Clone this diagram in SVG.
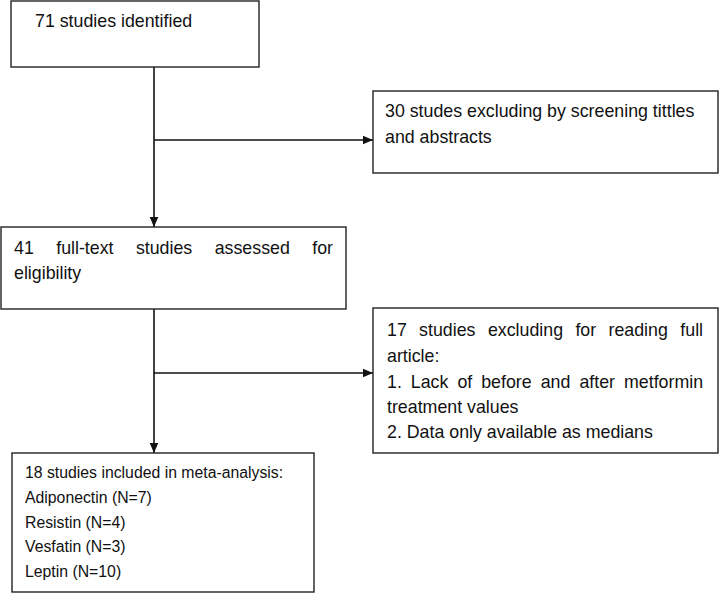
<svg xmlns="http://www.w3.org/2000/svg" width="720" height="601" viewBox="0 0 720 601">
<style>
.box{fill:#fff;stroke:#222;stroke-width:1.4}
.t{font-family:"Liberation Sans",Arial,sans-serif;font-size:17.8px;fill:#111}
.s{font-size:15.8px}
.c{stroke:#111;stroke-width:1.6;fill:none;marker-end:url(#ah)}
</style>
<defs>
<marker id="ah" markerUnits="userSpaceOnUse" markerWidth="11" markerHeight="10" refX="10.5" refY="5" orient="auto">
<path d="M0,0.5 L10.5,5 L0,9.5 z" fill="#111"/>
</marker>
</defs>
<rect width="720" height="601" fill="#fff"/>
<g id="connectors">
<path class="c" d="M154,67 V227"/>
<path class="c" d="M154,140 H373"/>
<path class="c" d="M154,309 V453"/>
<path class="c" d="M154,373 H373"/>
</g>
<g id="n1">
<rect class="box" x="11" y="1" width="248" height="66"/>
<text class="t" x="35" y="27">71 studies identified</text>
</g>
<g id="n2">
<rect class="box" x="373" y="91" width="345" height="82"/>
<text class="t" x="385" y="117">30 studes excluding by screening tittles</text>
<text class="t" x="385" y="143">and abstracts</text>
</g>
<g id="n3">
<rect class="box" x="1" y="227" width="345" height="82"/>
<text class="t" y="254"><tspan x="14">41</tspan> <tspan x="56.2">full-text</tspan> <tspan x="135.9">studies</tspan> <tspan x="214.7">assessed</tspan> <tspan x="312.2">for</tspan></text>
<text class="t" x="14" y="279">eligibility</text>
</g>
<g id="n4">
<rect class="box" x="373" y="308" width="345" height="145"/>
<text class="t" y="336"><tspan x="387">17</tspan> <tspan x="419.1">studies</tspan> <tspan x="487.9">excluding</tspan> <tspan x="575.4">for</tspan> <tspan x="608.5">reading</tspan> <tspan x="680.3">full</tspan></text>
<text class="t" x="387" y="362">article:</text>
<text class="t" y="388"><tspan x="387">1.</tspan> <tspan x="410.8">Lack</tspan> <tspan x="457.4">of</tspan> <tspan x="481.2">before</tspan> <tspan x="540.7">and</tspan> <tspan x="579.4">after</tspan> <tspan x="624">metformin</tspan></text>
<text class="t" x="387" y="413">treatment values</text>
<text class="t" x="387" y="438">2. Data only available as medians</text>
</g>
<g id="n5">
<rect class="box" x="12" y="453" width="302" height="139"/>
<text class="t s" x="25" y="478">18 studies included in meta-analysis:</text>
<text class="t s" x="25" y="503">Adiponectin (N=7)</text>
<text class="t s" x="25" y="528">Resistin (N=4)</text>
<text class="t s" x="25" y="552">Vesfatin (N=3)</text>
<text class="t s" x="25" y="577">Leptin (N=10)</text>
</g>
</svg>
